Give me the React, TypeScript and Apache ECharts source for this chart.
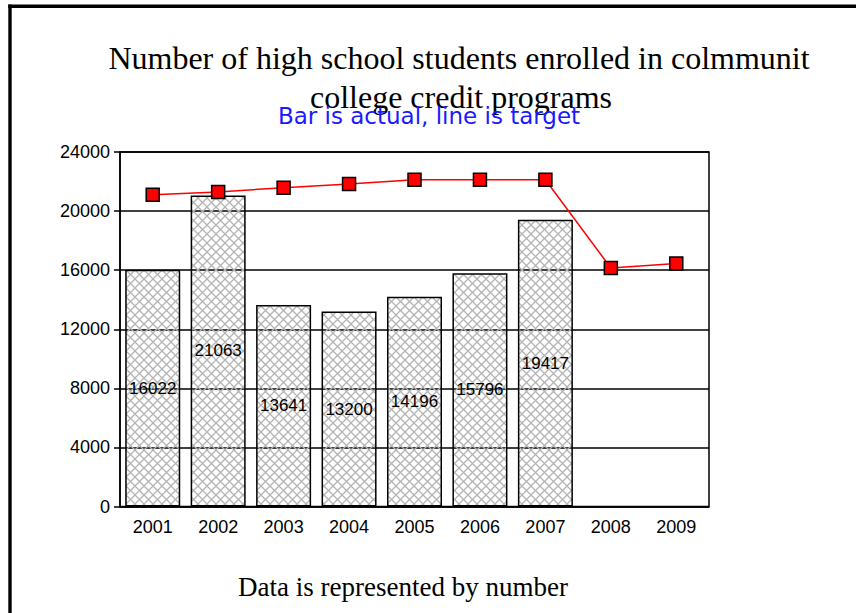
import React, { useEffect, useRef } from "react";
import * as echarts from "echarts";

const years = ["2001", "2002", "2003", "2004", "2005", "2006", "2007", "2008", "2009"];
const actual: (number | null)[] = [16022, 21063, 13641, 13200, 14196, 15796, 19417, null, null];
const target = [21100, 21300, 21580, 21830, 22120, 22120, 22120, 16150, 16450];
const yTicks = { min: 0, max: 24000, interval: 4000 };

const titleLine1 = "Number of high school students enrolled in colmmunit";
const titleLine2 = "college credit programs";
const subtitle = "Bar is actual, line is target";
const footer = "Data is represented by number";

function makeHatch(): HTMLCanvasElement {
  const c = document.createElement("canvas");
  c.width = 9;
  c.height = 9;
  const ctx = c.getContext("2d")!;
  ctx.strokeStyle = "#b4b4b4";
  ctx.lineWidth = 1.3;
  ctx.beginPath();
  ctx.moveTo(0, 0);
  ctx.lineTo(9, 9);
  ctx.moveTo(9, 0);
  ctx.lineTo(0, 9);
  ctx.stroke();
  return c;
}

export default function App() {
  const ref = useRef<HTMLDivElement>(null);
  useEffect(() => {
    if (!ref.current) return;
    const chart = echarts.init(ref.current, null, { renderer: "svg" });
    const sans = "Liberation Sans";
    const hatch = makeHatch();
    chart.setOption({
      animation: false,
      backgroundColor: "#ffffff",
      grid: {
        left: 120,
        top: 152,
        right: 147,
        bottom: 106.5,
        show: true,
        borderColor: "#000",
        borderWidth: 1.5,
        backgroundColor: "transparent",
      },
      xAxis: {
        type: "category",
        data: years,
        boundaryGap: true,
        axisLine: { lineStyle: { color: "#000", width: 1.5 } },
        axisTick: { show: false },
        axisLabel: { color: "#000", fontSize: 18, fontFamily: sans, margin: 11 },
        splitLine: { show: false },
      },
      yAxis: {
        type: "value",
        min: yTicks.min,
        max: yTicks.max,
        interval: yTicks.interval,
        axisLine: { show: true, lineStyle: { color: "#000", width: 1.5 } },
        axisTick: { show: true, inside: false, length: 6, lineStyle: { color: "#000", width: 1.5 } },
        axisLabel: {
          color: "#000",
          fontSize: 18,
          fontFamily: sans,
          margin: 10,
          formatter: (v: number) => String(v),
        },
        splitLine: { show: true, lineStyle: { color: "#000", width: 1.5 } },
      },
      series: [
        {
          type: "bar",
          data: actual,
          barWidth: 55,
          z: 2,
          itemStyle: {
            color: { image: hatch, repeat: "repeat", imageWidth: 9, imageHeight: 9 } as any,
            borderColor: "#000",
            borderWidth: 1.5,
          },
          label: {
            show: true,
            position: "inside",
            color: "#000",
            fontSize: 17,
            fontFamily: sans,
          },
        },
        {
          type: "line",
          data: target,
          z: 3,
          symbol: "rect",
          symbolSize: 13,
          lineStyle: { color: "#ff0000", width: 1.5 },
          itemStyle: { color: "#ff0000", borderColor: "#000", borderWidth: 1.5 },
        },
      ],
      graphic: [
        { type: "line", shape: { x1: 8.3, y1: 6.3, x2: 856, y2: 6.3 }, style: { stroke: "#000", lineWidth: 3.4 } },
        { type: "line", shape: { x1: 10, y1: 4.6, x2: 10, y2: 613 }, style: { stroke: "#000", lineWidth: 3.4 } },
        {
          type: "text",
          x: 459,
          y: 58,
          style: {
            text: titleLine1,
            fill: "#000",
            font: "32px 'Liberation Serif'",
            align: "center",
            verticalAlign: "middle",
          },
        },
        {
          type: "text",
          x: 461,
          y: 97,
          style: {
            text: titleLine2,
            fill: "#000",
            font: "32px 'Liberation Serif'",
            align: "center",
            verticalAlign: "middle",
          },
        },
        {
          type: "text",
          x: 429,
          y: 116,
          z: 10,
          style: {
            text: subtitle,
            fill: "#1a1aff",
            font: "23px 'DejaVu Sans'",
            align: "center",
            verticalAlign: "middle",
          },
        },
        {
          type: "text",
          x: 403,
          y: 587,
          style: {
            text: footer,
            fill: "#000",
            font: "27px 'Liberation Serif'",
            align: "center",
            verticalAlign: "middle",
          },
        },
      ],
    });
    return () => chart.dispose();
  }, []);
  return (
    <div style={{ position: "fixed", left: 0, top: 0, width: 856, height: 613, background: "#fff" }}>
      <div ref={ref} style={{ width: 856, height: 613 }} />
    </div>
  );
}
